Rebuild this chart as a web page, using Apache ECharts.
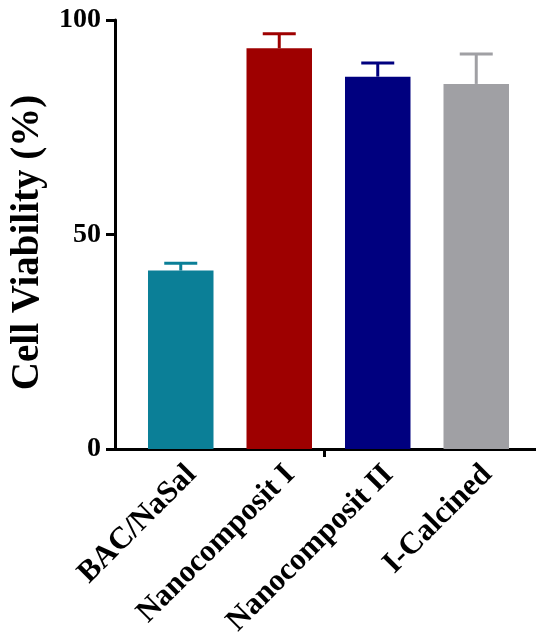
<!DOCTYPE html>
<html>
<head>
<meta charset="utf-8">
<script src="https://cdn.jsdelivr.net/npm/echarts@6/dist/echarts.min.js"></script>
<style>
  html, body { margin: 0; padding: 0; background: #fff; }
  #chart { width: 536px; height: 644px; }
</style>
</head>
<body>
<div id="chart"></div>
<script>
// data
var categories = ['BAC/NaSal', 'Nanocomposit I', 'Nanocomposit II', 'I-Calcined'];
var viability = [41.6, 93.4, 86.8, 85.1];
var errUp = [1.7, 3.4, 3.2, 7.0];
var yTicks = [0, 50, 100];

var barColors = ['#0b7f97', '#9e0000', '#00007f', '#a0a0a4'];
var font = '"Liberation Serif", "Times New Roman", serif';

var chart = echarts.init(document.getElementById('chart'));

var option = {
  backgroundColor: '#fff',
  animation: false,
  grid: [
    { left: 129.5, right: 10.5, top: 20, bottom: 195 },
    { left: 113, right: 0, top: 20, bottom: 195 }
  ],
  xAxis: [
    {
      gridIndex: 0,
      type: 'category',
      data: categories,
      axisLine: { show: false },
      axisTick: { show: false },
      axisLabel: {
        rotate: 45,
        margin: 10,
        interval: 0,
        verticalAlign: 'top',
        color: '#000',
        fontFamily: font,
        fontWeight: 'bold',
        fontSize: 31
      }
    },
    {
      // the long x axis line with GraphPad's lone centre tick
      gridIndex: 1,
      type: 'value',
      min: 0,
      max: 1,
      axisLine: { show: true, lineStyle: { color: '#000', width: 3 } },
      axisTick: { show: true, customValues: [0.5], length: 8, lineStyle: { color: '#000', width: 3 } },
      axisLabel: { show: false },
      splitLine: { show: false }
    }
  ],
  yAxis: [
    {
      gridIndex: 0,
      type: 'value',
      min: 0,
      max: 100,
      interval: 50,
      offset: 16.5,
      name: 'Cell Viability (%)',
      nameLocation: 'middle',
      nameRotate: 90,
      nameGap: 68,
      nameTextStyle: {
        color: '#000',
        fontFamily: font,
        fontWeight: 'bold',
        fontSize: 39,
        padding: [0, 16, 0, 0]
      },
      axisLine: { show: true, lineStyle: { color: '#000', width: 3 } },
      axisTick: { show: true, length: 9, lineStyle: { color: '#000', width: 3 } },
      axisLabel: {
        margin: 14,
        color: '#000',
        fontFamily: font,
        fontWeight: 'bold',
        fontSize: 28,
        formatter: function (v) { return yTicks.indexOf(v) >= 0 ? String(v) : ''; }
      },
      splitLine: { show: false }
    },
    {
      gridIndex: 1,
      type: 'value',
      min: 0,
      max: 1,
      show: false
    }
  ],
  series: [
    {
      type: 'bar',
      xAxisIndex: 0,
      yAxisIndex: 0,
      barWidth: '66.5%',
      data: viability.map(function (v, i) {
        return { value: v, itemStyle: { color: barColors[i] } };
      }),
      z: 2
    },
    {
      // upper error bars
      type: 'custom',
      xAxisIndex: 0,
      yAxisIndex: 0,
      data: viability.map(function (v, i) { return [i, v, v + errUp[i]]; }),
      renderItem: function (params, api) {
        var i = api.value(0);
        var base = api.coord([i, api.value(1)]);
        var top = api.coord([i, api.value(2)]);
        var half = 16.5;
        var col = barColors[params.dataIndex];
        return {
          type: 'group',
          children: [
            { type: 'line', shape: { x1: base[0], y1: base[1], x2: top[0], y2: top[1] },
              style: { stroke: col, lineWidth: 3 } },
            { type: 'line', shape: { x1: top[0] - half, y1: top[1], x2: top[0] + half, y2: top[1] },
              style: { stroke: col, lineWidth: 3 } }
          ]
        };
      },
      z: 3
    }
  ]
};

chart.setOption(option);
</script>
</body>
</html>
